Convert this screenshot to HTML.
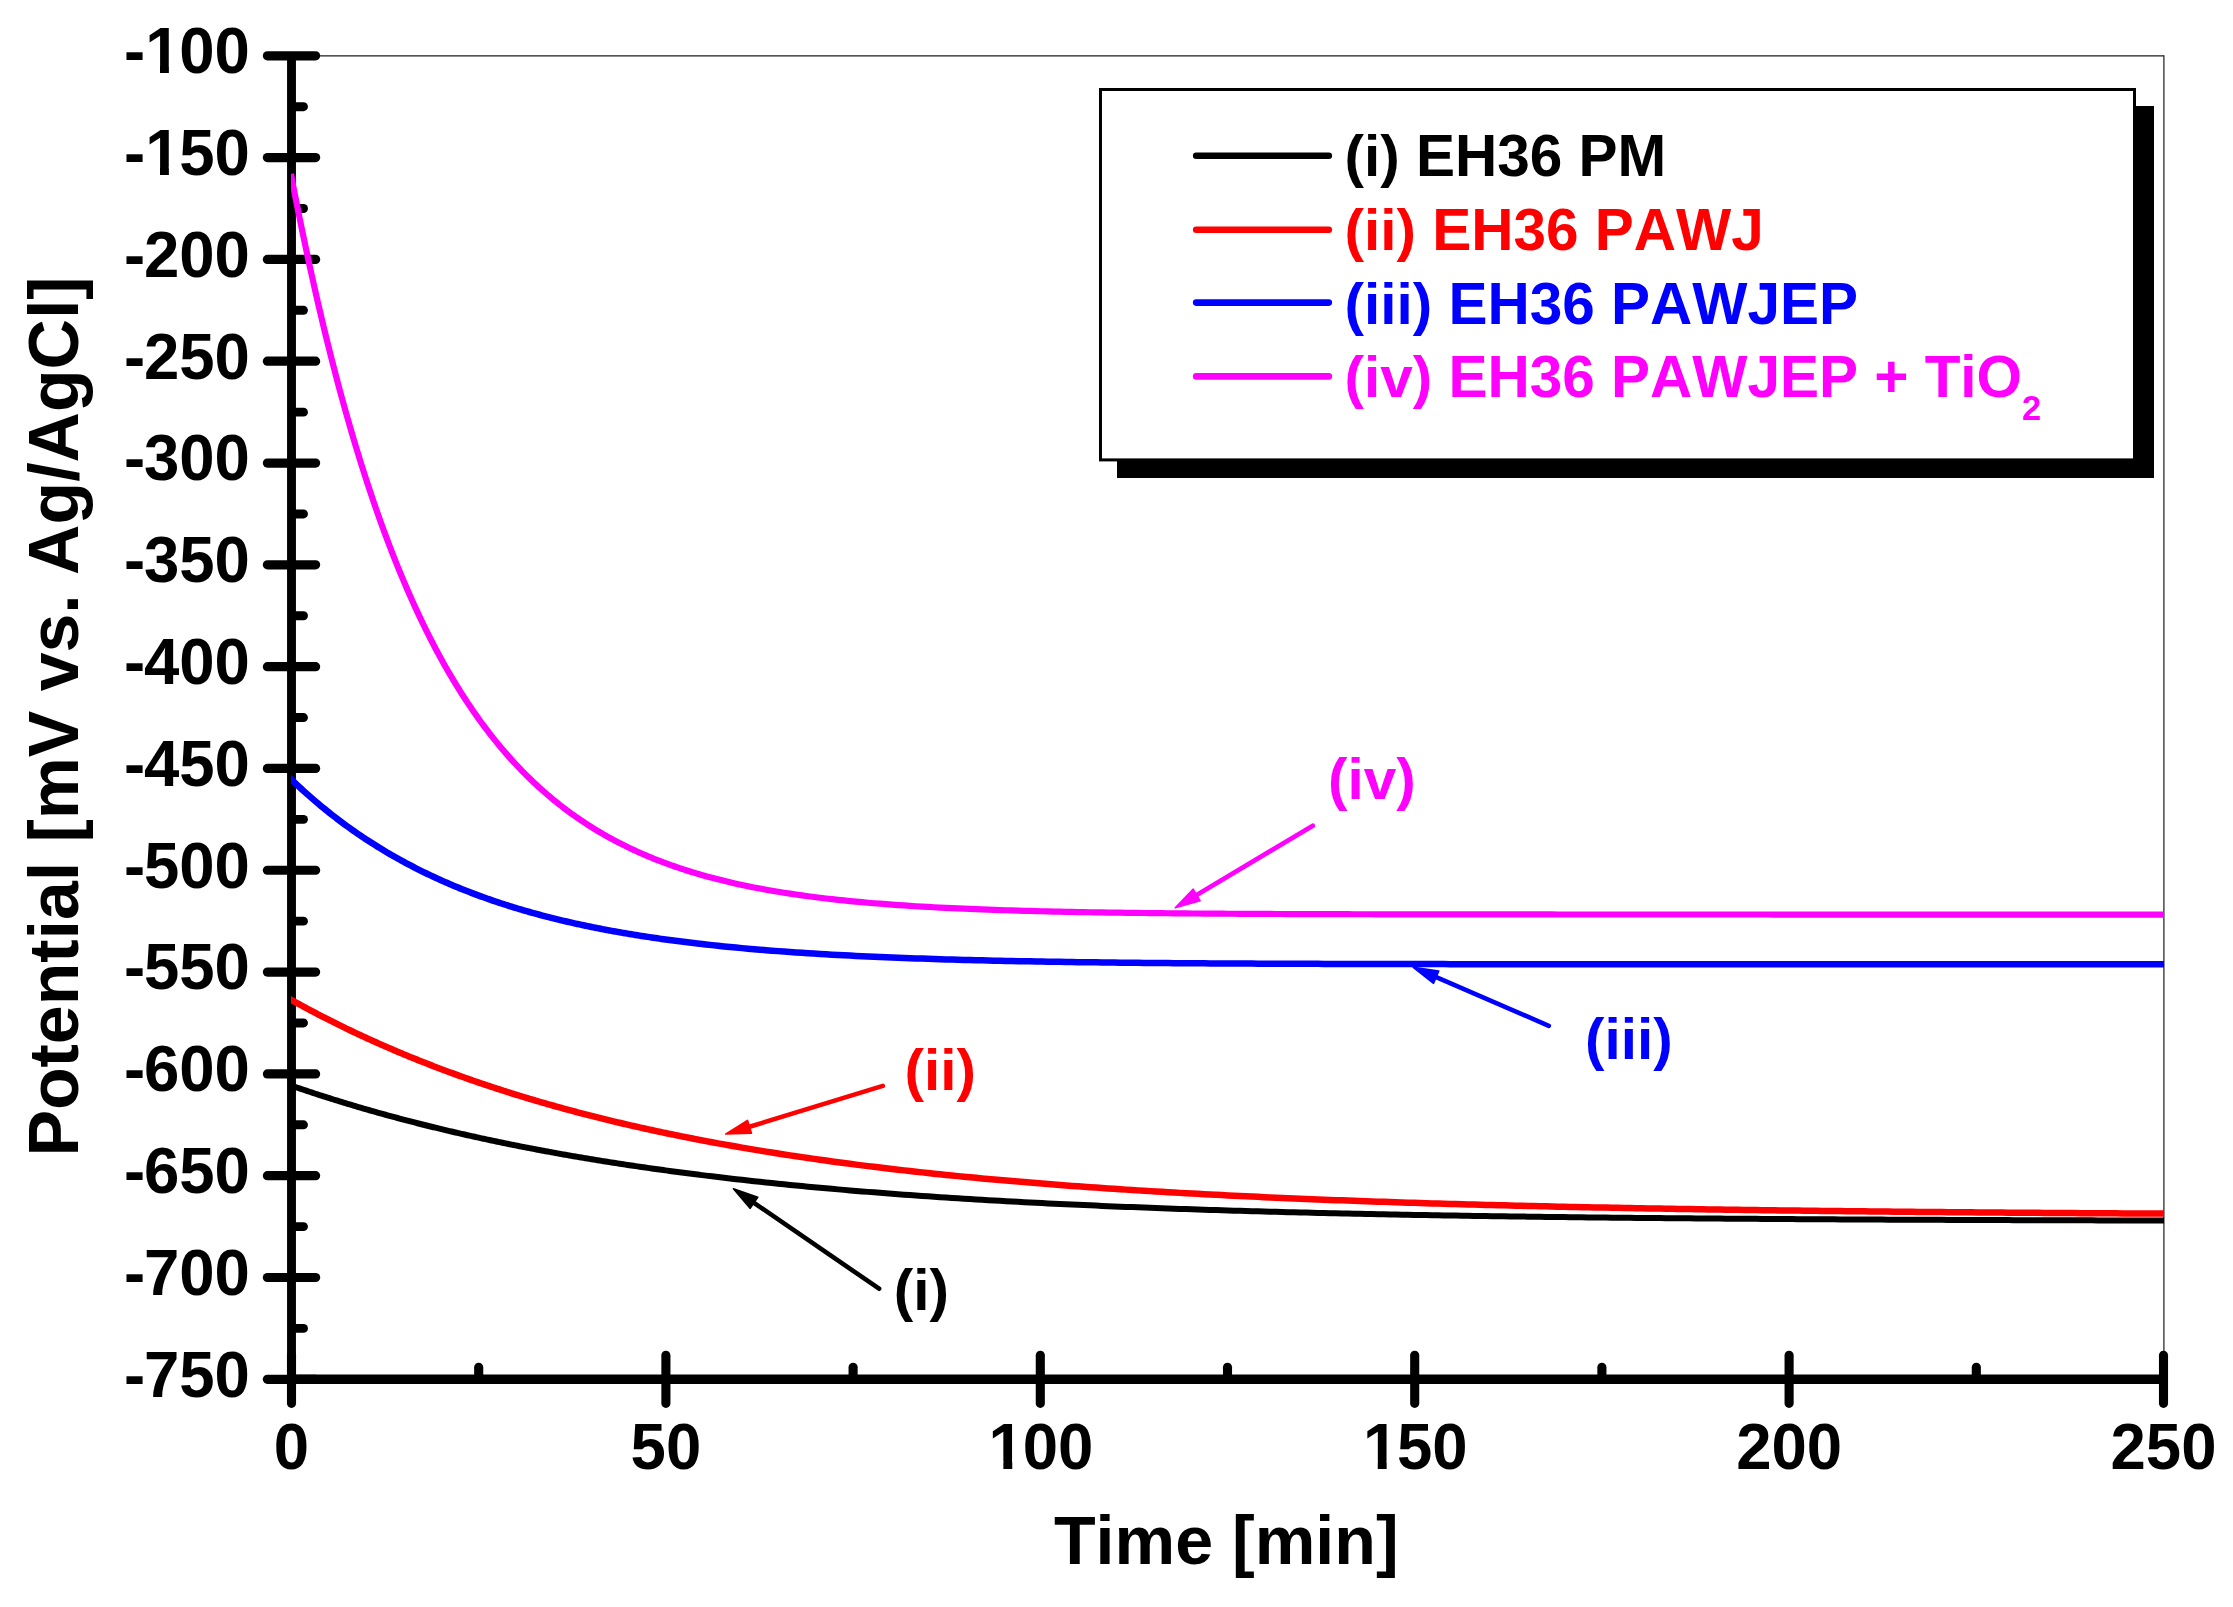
<!DOCTYPE html>
<html lang="en">
<head>
<meta charset="utf-8">
<title>Open circuit potential vs. time</title>
<style>
html,body{margin:0;padding:0;background:#fff;}
body{width:2233px;height:1607px;overflow:hidden;}
svg{display:block;}
text{font-family:"Liberation Sans",sans-serif;font-weight:bold;font-kerning:none;}
</style>
</head>
<body>
<svg width="2233" height="1607" viewBox="0 0 2233 1607">
<rect x="0" y="0" width="2233" height="1607" fill="#ffffff"/>
<g stroke="#1c1c1c" stroke-width="1.2" fill="none">
<line x1="291.5" y1="55.8" x2="2163.9" y2="55.8"/>
<line x1="2163.9" y1="55.2" x2="2163.9" y2="1379.3"/>
</g>
<g stroke="#000" stroke-width="9" fill="none" stroke-linecap="round">
<line x1="291.5" y1="55.8" x2="291.5" y2="1379.3" stroke-linecap="butt" stroke-width="8.9"/>
<line x1="291.5" y1="1379.3" x2="2163.5" y2="1379.3" stroke-linecap="butt" stroke-width="9.4"/>
</g>
<g stroke="#000" stroke-width="9.2" fill="none" stroke-linecap="round">
<line x1="267.40" y1="55.80" x2="315.60" y2="55.80"/>
<line x1="293.50" y1="106.70" x2="303.50" y2="106.70" stroke-width="8.9"/>
<line x1="267.40" y1="157.61" x2="315.60" y2="157.61"/>
<line x1="293.50" y1="208.51" x2="303.50" y2="208.51" stroke-width="8.9"/>
<line x1="267.40" y1="259.42" x2="315.60" y2="259.42"/>
<line x1="293.50" y1="310.32" x2="303.50" y2="310.32" stroke-width="8.9"/>
<line x1="267.40" y1="361.22" x2="315.60" y2="361.22"/>
<line x1="293.50" y1="412.13" x2="303.50" y2="412.13" stroke-width="8.9"/>
<line x1="267.40" y1="463.03" x2="315.60" y2="463.03"/>
<line x1="293.50" y1="513.93" x2="303.50" y2="513.93" stroke-width="8.9"/>
<line x1="267.40" y1="564.84" x2="315.60" y2="564.84"/>
<line x1="293.50" y1="615.74" x2="303.50" y2="615.74" stroke-width="8.9"/>
<line x1="267.40" y1="666.65" x2="315.60" y2="666.65"/>
<line x1="293.50" y1="717.55" x2="303.50" y2="717.55" stroke-width="8.9"/>
<line x1="267.40" y1="768.45" x2="315.60" y2="768.45"/>
<line x1="293.50" y1="819.36" x2="303.50" y2="819.36" stroke-width="8.9"/>
<line x1="267.40" y1="870.26" x2="315.60" y2="870.26"/>
<line x1="293.50" y1="921.17" x2="303.50" y2="921.17" stroke-width="8.9"/>
<line x1="267.40" y1="972.07" x2="315.60" y2="972.07"/>
<line x1="293.50" y1="1022.97" x2="303.50" y2="1022.97" stroke-width="8.9"/>
<line x1="267.40" y1="1073.88" x2="315.60" y2="1073.88"/>
<line x1="293.50" y1="1124.78" x2="303.50" y2="1124.78" stroke-width="8.9"/>
<line x1="267.40" y1="1175.68" x2="315.60" y2="1175.68"/>
<line x1="293.50" y1="1226.59" x2="303.50" y2="1226.59" stroke-width="8.9"/>
<line x1="267.40" y1="1277.49" x2="315.60" y2="1277.49"/>
<line x1="293.50" y1="1328.40" x2="303.50" y2="1328.40" stroke-width="8.9"/>
<line x1="267.40" y1="1379.30" x2="315.60" y2="1379.30"/>
<line x1="291.50" y1="1355.20" x2="291.50" y2="1403.40" stroke-width="9.1"/>
<line x1="478.70" y1="1377.30" x2="478.70" y2="1367.30" stroke-width="9.1"/>
<line x1="665.90" y1="1355.20" x2="665.90" y2="1403.40" stroke-width="9.1"/>
<line x1="853.10" y1="1377.30" x2="853.10" y2="1367.30" stroke-width="9.1"/>
<line x1="1040.30" y1="1355.20" x2="1040.30" y2="1403.40" stroke-width="9.1"/>
<line x1="1227.50" y1="1377.30" x2="1227.50" y2="1367.30" stroke-width="9.1"/>
<line x1="1414.70" y1="1355.20" x2="1414.70" y2="1403.40" stroke-width="9.1"/>
<line x1="1601.90" y1="1377.30" x2="1601.90" y2="1367.30" stroke-width="9.1"/>
<line x1="1789.10" y1="1355.20" x2="1789.10" y2="1403.40" stroke-width="9.1"/>
<line x1="1976.30" y1="1377.30" x2="1976.30" y2="1367.30" stroke-width="9.1"/>
<line x1="2163.50" y1="1355.20" x2="2163.50" y2="1403.40" stroke-width="9.1"/>
</g>
<clipPath id="oneA"><path clip-rule="evenodd" d="M-20 -80H260V30H-20Z M3.80 -7.75H16.03V4H3.80Z M24.93 -7.75H36.35V4H24.93Z"/></clipPath>
<clipPath id="oneB"><path clip-rule="evenodd" d="M-20 -80H260V30H-20Z M24.95 -7.75H37.17V4H24.95Z M46.07 -7.75H57.49V4H46.07Z"/></clipPath>
<text transform="translate(122.81 73.2) scale(1 1.03)" font-size="63.5" fill="#000" clip-path="url(#oneB)"><tspan dx="1.2">-</tspan><tspan dx="0.10">1</tspan><tspan dx="-1.30">00</tspan></text>
<text transform="translate(122.81 175.01) scale(1 1.03)" font-size="63.5" fill="#000" clip-path="url(#oneB)"><tspan dx="1.2">-</tspan><tspan dx="0.10">1</tspan><tspan dx="-1.30">50</tspan></text>
<text transform="translate(122.81 276.82) scale(1 1.03)" font-size="63.5" fill="#000"><tspan dx="1.2">-</tspan><tspan dx="-1.20">200</tspan></text>
<text transform="translate(122.81 378.62) scale(1 1.03)" font-size="63.5" fill="#000"><tspan dx="1.2">-</tspan><tspan dx="-1.20">250</tspan></text>
<text transform="translate(122.81 480.43) scale(1 1.03)" font-size="63.5" fill="#000"><tspan dx="1.2">-</tspan><tspan dx="-1.20">300</tspan></text>
<text transform="translate(122.81 582.24) scale(1 1.03)" font-size="63.5" fill="#000"><tspan dx="1.2">-</tspan><tspan dx="-1.20">350</tspan></text>
<text transform="translate(122.81 684.05) scale(1 1.03)" font-size="63.5" fill="#000"><tspan dx="1.2">-</tspan><tspan dx="-1.20">400</tspan></text>
<text transform="translate(122.81 785.85) scale(1 1.03)" font-size="63.5" fill="#000"><tspan dx="1.2">-</tspan><tspan dx="-1.20">450</tspan></text>
<text transform="translate(122.81 887.66) scale(1 1.03)" font-size="63.5" fill="#000"><tspan dx="1.2">-</tspan><tspan dx="-1.20">500</tspan></text>
<text transform="translate(122.81 989.47) scale(1 1.03)" font-size="63.5" fill="#000"><tspan dx="1.2">-</tspan><tspan dx="-1.20">550</tspan></text>
<text transform="translate(122.81 1091.28) scale(1 1.03)" font-size="63.5" fill="#000"><tspan dx="1.2">-</tspan><tspan dx="-1.20">600</tspan></text>
<text transform="translate(122.81 1193.08) scale(1 1.03)" font-size="63.5" fill="#000"><tspan dx="1.2">-</tspan><tspan dx="-1.20">650</tspan></text>
<text transform="translate(122.81 1294.89) scale(1 1.03)" font-size="63.5" fill="#000"><tspan dx="1.2">-</tspan><tspan dx="-1.20">700</tspan></text>
<text transform="translate(122.81 1396.7) scale(1 1.03)" font-size="63.5" fill="#000"><tspan dx="1.2">-</tspan><tspan dx="-1.20">750</tspan></text>
<text transform="translate(273.84 1469.2) scale(1 1.03)" font-size="63.5" fill="#000">0</text>
<text transform="translate(630.58 1469.2) scale(1 1.03)" font-size="63.5" fill="#000">50</text>
<text transform="translate(987.33 1469.2) scale(1 1.03)" font-size="63.5" fill="#000" clip-path="url(#oneA)"><tspan dx="1.30">1</tspan><tspan dx="-1.30">00</tspan></text>
<text transform="translate(1361.73 1469.2) scale(1 1.03)" font-size="63.5" fill="#000" clip-path="url(#oneA)"><tspan dx="1.30">1</tspan><tspan dx="-1.30">50</tspan></text>
<text transform="translate(1736.13 1469.2) scale(1 1.03)" font-size="63.5" fill="#000">200</text>
<text transform="translate(2110.53 1469.2) scale(1 1.03)" font-size="63.5" fill="#000">250</text>
<text transform="translate(1226.3 1564.4) scale(1 1.01)" font-size="68.2" fill="#000" text-anchor="middle">Time [min]</text>
<text transform="translate(78.2 716.5) rotate(-90) scale(1 1.015)" font-size="69.8" fill="#000" text-anchor="middle">Potential [mV vs. Ag/AgCl]</text>
<clipPath id="plotclip"><rect x="291.1" y="0" width="1872.8" height="1607"/></clipPath>
<g clip-path="url(#plotclip)" fill="none" stroke-linejoin="round" stroke-linecap="square">
<path d="M291.5 1085.70 L293.5 1086.39 L295.5 1087.07 L297.5 1087.75 L299.5 1088.43 L301.5 1089.11 L303.5 1089.78 L305.5 1090.45 L307.5 1091.11 L309.5 1091.78 L311.5 1092.44 L313.5 1093.09 L315.5 1093.75 L317.5 1094.40 L319.5 1095.04 L321.5 1095.69 L323.5 1096.33 L325.5 1096.96 L327.5 1097.60 L329.5 1098.23 L331.5 1098.86 L333.5 1099.49 L335.5 1100.11 L337.5 1100.73 L339.5 1101.35 L341.5 1101.96 L343.5 1102.57 L345.5 1103.18 L347.5 1103.78 L349.5 1104.39 L351.5 1104.98 L353.5 1105.58 L355.5 1106.17 L357.5 1106.77 L359.5 1107.35 L361.5 1107.94 L363.5 1108.52 L365.5 1109.10 L367.5 1109.68 L369.5 1110.25 L371.5 1110.82 L373.5 1111.39 L375.5 1111.96 L377.5 1112.52 L379.5 1113.08 L381.5 1113.64 L383.5 1114.19 L385.5 1114.74 L387.5 1115.29 L389.5 1115.84 L391.5 1116.38 L393.5 1116.93 L395.5 1117.46 L397.5 1118.00 L399.5 1118.53 L401.5 1119.07 L403.5 1119.59 L405.5 1120.12 L407.5 1120.64 L409.5 1121.16 L411.5 1121.68 L413.5 1122.20 L415.5 1122.71 L417.5 1123.22 L419.5 1123.73 L421.5 1124.24 L423.5 1124.74 L425.5 1125.24 L427.5 1125.74 L429.5 1126.23 L431.5 1126.73 L433.5 1127.22 L435.5 1127.71 L437.5 1128.19 L439.5 1128.68 L441.5 1129.16 L443.5 1129.64 L445.5 1130.12 L447.5 1130.59 L449.5 1131.06 L451.5 1131.53 L453.5 1132.00 L455.5 1132.47 L457.5 1132.93 L459.5 1133.39 L461.5 1133.85 L463.5 1134.30 L465.5 1134.76 L467.5 1135.21 L469.5 1135.66 L471.5 1136.11 L473.5 1136.55 L475.5 1136.99 L477.5 1137.43 L479.5 1137.87 L481.5 1138.31 L483.5 1138.74 L485.5 1139.18 L487.5 1139.61 L489.5 1140.03 L491.5 1140.46 L493.5 1140.88 L495.5 1141.30 L497.5 1141.72 L499.5 1142.14 L501.5 1142.56 L503.5 1142.97 L505.5 1143.38 L507.5 1143.79 L509.5 1144.19 L511.5 1144.60 L513.5 1145.00 L515.5 1145.40 L517.5 1145.80 L519.5 1146.20 L521.5 1146.59 L523.5 1146.99 L525.5 1147.38 L527.5 1147.77 L529.5 1148.15 L531.5 1148.54 L533.5 1148.92 L535.5 1149.30 L537.5 1149.68 L539.5 1150.06 L541.5 1150.44 L543.5 1150.81 L545.5 1151.18 L547.5 1151.55 L549.5 1151.92 L551.5 1152.29 L553.5 1152.65 L555.5 1153.01 L557.5 1153.37 L559.5 1153.73 L561.5 1154.09 L563.5 1154.44 L565.5 1154.80 L567.5 1155.15 L569.5 1155.50 L571.5 1155.85 L573.5 1156.19 L575.5 1156.54 L577.5 1156.88 L579.5 1157.22 L581.5 1157.56 L583.5 1157.90 L585.5 1158.24 L587.5 1158.57 L589.5 1158.90 L591.5 1159.23 L593.5 1159.56 L595.5 1159.89 L597.5 1160.22 L599.5 1160.54 L601.5 1160.86 L603.5 1161.19 L605.5 1161.51 L607.5 1161.82 L609.5 1162.14 L611.5 1162.45 L613.5 1162.77 L615.5 1163.08 L617.5 1163.39 L619.5 1163.70 L621.5 1164.00 L623.5 1164.31 L625.5 1164.61 L627.5 1164.91 L629.5 1165.21 L631.5 1165.51 L633.5 1165.81 L635.5 1166.11 L637.5 1166.40 L639.5 1166.69 L641.5 1166.98 L643.5 1167.27 L645.5 1167.56 L647.5 1167.85 L649.5 1168.14 L651.5 1168.42 L653.5 1168.70 L655.5 1168.98 L657.5 1169.26 L659.5 1169.54 L661.5 1169.82 L663.5 1170.09 L665.5 1170.37 L667.5 1170.64 L669.5 1170.91 L671.5 1171.18 L673.5 1171.45 L675.5 1171.72 L677.5 1171.98 L679.5 1172.25 L681.5 1172.51 L683.5 1172.77 L685.5 1173.03 L687.5 1173.29 L689.5 1173.55 L691.5 1173.80 L693.5 1174.06 L695.5 1174.31 L697.5 1174.56 L699.5 1174.81 L700.0 1174.88 L706.0 1175.62 L712.0 1176.35 L718.0 1177.07 L724.0 1177.79 L730.0 1178.48 L736.0 1179.17 L742.0 1179.85 L748.0 1180.52 L754.0 1181.17 L760.0 1181.82 L766.0 1182.46 L772.0 1183.08 L778.0 1183.70 L784.0 1184.31 L790.0 1184.91 L796.0 1185.50 L802.0 1186.07 L808.0 1186.64 L814.0 1187.21 L820.0 1187.76 L826.0 1188.30 L832.0 1188.84 L838.0 1189.37 L844.0 1189.88 L850.0 1190.39 L856.0 1190.90 L862.0 1191.39 L868.0 1191.88 L874.0 1192.36 L880.0 1192.83 L886.0 1193.29 L892.0 1193.75 L898.0 1194.20 L904.0 1194.64 L910.0 1195.08 L916.0 1195.51 L922.0 1195.93 L928.0 1196.34 L934.0 1196.75 L940.0 1197.15 L946.0 1197.55 L952.0 1197.94 L958.0 1198.32 L964.0 1198.70 L970.0 1199.07 L976.0 1199.43 L982.0 1199.79 L988.0 1200.15 L994.0 1200.49 L1000.0 1200.84 L1006.0 1201.17 L1012.0 1201.50 L1018.0 1201.83 L1024.0 1202.15 L1030.0 1202.47 L1036.0 1202.78 L1042.0 1203.08 L1048.0 1203.38 L1054.0 1203.68 L1060.0 1203.97 L1066.0 1204.26 L1072.0 1204.54 L1078.0 1204.81 L1084.0 1205.09 L1090.0 1205.35 L1096.0 1205.62 L1102.0 1205.88 L1108.0 1206.13 L1114.0 1206.39 L1120.0 1206.63 L1126.0 1206.88 L1132.0 1207.11 L1138.0 1207.35 L1144.0 1207.58 L1150.0 1207.81 L1156.0 1208.03 L1162.0 1208.25 L1168.0 1208.47 L1174.0 1208.68 L1180.0 1208.89 L1186.0 1209.10 L1192.0 1209.30 L1198.0 1209.50 L1204.0 1209.70 L1210.0 1209.89 L1216.0 1210.08 L1222.0 1210.27 L1228.0 1210.45 L1234.0 1210.64 L1240.0 1210.81 L1246.0 1210.99 L1252.0 1211.16 L1258.0 1211.33 L1264.0 1211.50 L1270.0 1211.66 L1276.0 1211.82 L1282.0 1211.98 L1288.0 1212.14 L1294.0 1212.29 L1300.0 1212.44 L1306.0 1212.59 L1312.0 1212.73 L1318.0 1212.88 L1324.0 1213.02 L1330.0 1213.16 L1336.0 1213.29 L1342.0 1213.43 L1348.0 1213.56 L1354.0 1213.69 L1360.0 1213.82 L1366.0 1213.94 L1372.0 1214.07 L1378.0 1214.19 L1384.0 1214.31 L1390.0 1214.43 L1396.0 1214.54 L1402.0 1214.66 L1408.0 1214.77 L1414.0 1214.88 L1420.0 1214.99 L1426.0 1215.09 L1432.0 1215.20 L1438.0 1215.30 L1444.0 1215.40 L1450.0 1215.50 L1456.0 1215.60 L1462.0 1215.69 L1468.0 1215.79 L1474.0 1215.88 L1480.0 1215.97 L1486.0 1216.06 L1492.0 1216.15 L1498.0 1216.24 L1504.0 1216.32 L1510.0 1216.41 L1516.0 1216.49 L1522.0 1216.57 L1528.0 1216.65 L1534.0 1216.73 L1540.0 1216.81 L1546.0 1216.88 L1552.0 1216.96 L1558.0 1217.03 L1564.0 1217.10 L1570.0 1217.17 L1576.0 1217.24 L1582.0 1217.31 L1588.0 1217.38 L1594.0 1217.45 L1600.0 1217.51 L1606.0 1217.57 L1612.0 1217.64 L1618.0 1217.70 L1624.0 1217.76 L1630.0 1217.82 L1636.0 1217.88 L1642.0 1217.94 L1648.0 1217.99 L1654.0 1218.05 L1660.0 1218.10 L1666.0 1218.16 L1672.0 1218.21 L1678.0 1218.26 L1684.0 1218.32 L1690.0 1218.37 L1696.0 1218.42 L1702.0 1218.46 L1708.0 1218.51 L1714.0 1218.56 L1720.0 1218.61 L1726.0 1218.65 L1732.0 1218.70 L1738.0 1218.74 L1744.0 1218.78 L1750.0 1218.83 L1756.0 1218.87 L1762.0 1218.91 L1768.0 1218.95 L1774.0 1218.99 L1780.0 1219.03 L1786.0 1219.07 L1792.0 1219.11 L1798.0 1219.14 L1804.0 1219.18 L1810.0 1219.22 L1816.0 1219.25 L1822.0 1219.29 L1828.0 1219.32 L1834.0 1219.35 L1840.0 1219.39 L1846.0 1219.42 L1852.0 1219.45 L1858.0 1219.48 L1864.0 1219.51 L1870.0 1219.54 L1876.0 1219.57 L1882.0 1219.60 L1888.0 1219.63 L1894.0 1219.66 L1900.0 1219.69 L1906.0 1219.71 L1912.0 1219.74 L1918.0 1219.77 L1924.0 1219.79 L1930.0 1219.82 L1936.0 1219.84 L1942.0 1219.87 L1948.0 1219.89 L1954.0 1219.92 L1960.0 1219.94 L1966.0 1219.96 L1972.0 1219.98 L1978.0 1220.01 L1984.0 1220.03 L1990.0 1220.05 L1996.0 1220.07 L2002.0 1220.09 L2008.0 1220.11 L2014.0 1220.13 L2020.0 1220.15 L2026.0 1220.17 L2032.0 1220.19 L2038.0 1220.21 L2044.0 1220.23 L2050.0 1220.25 L2056.0 1220.26 L2062.0 1220.28 L2068.0 1220.30 L2074.0 1220.31 L2080.0 1220.33 L2086.0 1220.35 L2092.0 1220.36 L2098.0 1220.38 L2104.0 1220.39 L2110.0 1220.41 L2116.0 1220.42 L2122.0 1220.44 L2128.0 1220.45 L2134.0 1220.47 L2140.0 1220.48 L2146.0 1220.50 L2152.0 1220.51 L2158.0 1220.52 L2163.5 1220.53" stroke="#000000" stroke-width="6.0"/>
<path d="M291.5 1000.00 L293.5 1001.11 L295.5 1002.22 L297.5 1003.32 L299.5 1004.42 L301.5 1005.51 L303.5 1006.60 L305.5 1007.68 L307.5 1008.75 L309.5 1009.82 L311.5 1010.88 L313.5 1011.94 L315.5 1012.99 L317.5 1014.03 L319.5 1015.07 L321.5 1016.11 L323.5 1017.14 L325.5 1018.16 L327.5 1019.18 L329.5 1020.19 L331.5 1021.20 L333.5 1022.20 L335.5 1023.20 L337.5 1024.19 L339.5 1025.18 L341.5 1026.16 L343.5 1027.14 L345.5 1028.11 L347.5 1029.08 L349.5 1030.04 L351.5 1030.99 L353.5 1031.94 L355.5 1032.89 L357.5 1033.83 L359.5 1034.77 L361.5 1035.70 L363.5 1036.63 L365.5 1037.55 L367.5 1038.46 L369.5 1039.38 L371.5 1040.28 L373.5 1041.19 L375.5 1042.08 L377.5 1042.98 L379.5 1043.86 L381.5 1044.75 L383.5 1045.63 L385.5 1046.50 L387.5 1047.37 L389.5 1048.24 L391.5 1049.10 L393.5 1049.95 L395.5 1050.81 L397.5 1051.65 L399.5 1052.50 L401.5 1053.33 L403.5 1054.17 L405.5 1055.00 L407.5 1055.82 L409.5 1056.64 L411.5 1057.46 L413.5 1058.27 L415.5 1059.08 L417.5 1059.88 L419.5 1060.68 L421.5 1061.48 L423.5 1062.27 L425.5 1063.06 L427.5 1063.84 L429.5 1064.62 L431.5 1065.39 L433.5 1066.17 L435.5 1066.93 L437.5 1067.70 L439.5 1068.45 L441.5 1069.21 L443.5 1069.96 L445.5 1070.71 L447.5 1071.45 L449.5 1072.19 L451.5 1072.92 L453.5 1073.66 L455.5 1074.38 L457.5 1075.11 L459.5 1075.83 L461.5 1076.54 L463.5 1077.26 L465.5 1077.96 L467.5 1078.67 L469.5 1079.37 L471.5 1080.07 L473.5 1080.76 L475.5 1081.45 L477.5 1082.14 L479.5 1082.82 L481.5 1083.50 L483.5 1084.18 L485.5 1084.85 L487.5 1085.52 L489.5 1086.19 L491.5 1086.85 L493.5 1087.51 L495.5 1088.16 L497.5 1088.82 L499.5 1089.46 L501.5 1090.11 L503.5 1090.75 L505.5 1091.39 L507.5 1092.02 L509.5 1092.66 L511.5 1093.28 L513.5 1093.91 L515.5 1094.53 L517.5 1095.15 L519.5 1095.77 L521.5 1096.38 L523.5 1096.99 L525.5 1097.59 L527.5 1098.20 L529.5 1098.79 L531.5 1099.39 L533.5 1099.98 L535.5 1100.57 L537.5 1101.16 L539.5 1101.75 L541.5 1102.33 L543.5 1102.91 L545.5 1103.48 L547.5 1104.05 L549.5 1104.62 L551.5 1105.19 L553.5 1105.75 L555.5 1106.31 L557.5 1106.87 L559.5 1107.42 L561.5 1107.97 L563.5 1108.52 L565.5 1109.07 L567.5 1109.61 L569.5 1110.15 L571.5 1110.69 L573.5 1111.22 L575.5 1111.75 L577.5 1112.28 L579.5 1112.81 L581.5 1113.33 L583.5 1113.85 L585.5 1114.37 L587.5 1114.89 L589.5 1115.40 L591.5 1115.91 L593.5 1116.42 L595.5 1116.92 L597.5 1117.42 L599.5 1117.92 L601.5 1118.42 L603.5 1118.92 L605.5 1119.41 L607.5 1119.90 L609.5 1120.38 L611.5 1120.87 L613.5 1121.35 L615.5 1121.83 L617.5 1122.31 L619.5 1122.78 L621.5 1123.25 L623.5 1123.72 L625.5 1124.19 L627.5 1124.65 L629.5 1125.11 L631.5 1125.57 L633.5 1126.03 L635.5 1126.49 L637.5 1126.94 L639.5 1127.39 L641.5 1127.84 L643.5 1128.28 L645.5 1128.72 L647.5 1129.17 L649.5 1129.60 L651.5 1130.04 L653.5 1130.47 L655.5 1130.91 L657.5 1131.34 L659.5 1131.76 L661.5 1132.19 L663.5 1132.61 L665.5 1133.03 L667.5 1133.45 L669.5 1133.87 L671.5 1134.28 L673.5 1134.69 L675.5 1135.10 L677.5 1135.51 L679.5 1135.92 L681.5 1136.32 L683.5 1136.72 L685.5 1137.12 L687.5 1137.52 L689.5 1137.92 L691.5 1138.31 L693.5 1138.70 L695.5 1139.09 L697.5 1139.48 L699.5 1139.86 L700.0 1139.96 L706.0 1141.10 L712.0 1142.23 L718.0 1143.33 L724.0 1144.42 L730.0 1145.50 L736.0 1146.55 L742.0 1147.59 L748.0 1148.62 L754.0 1149.63 L760.0 1150.62 L766.0 1151.60 L772.0 1152.56 L778.0 1153.51 L784.0 1154.45 L790.0 1155.37 L796.0 1156.27 L802.0 1157.16 L808.0 1158.04 L814.0 1158.90 L820.0 1159.76 L826.0 1160.59 L832.0 1161.42 L838.0 1162.23 L844.0 1163.03 L850.0 1163.82 L856.0 1164.60 L862.0 1165.36 L868.0 1166.11 L874.0 1166.85 L880.0 1167.58 L886.0 1168.30 L892.0 1169.01 L898.0 1169.70 L904.0 1170.39 L910.0 1171.07 L916.0 1171.73 L922.0 1172.39 L928.0 1173.03 L934.0 1173.67 L940.0 1174.29 L946.0 1174.91 L952.0 1175.51 L958.0 1176.11 L964.0 1176.70 L970.0 1177.28 L976.0 1177.85 L982.0 1178.41 L988.0 1178.96 L994.0 1179.51 L1000.0 1180.05 L1006.0 1180.58 L1012.0 1181.10 L1018.0 1181.61 L1024.0 1182.11 L1030.0 1182.61 L1036.0 1183.10 L1042.0 1183.58 L1048.0 1184.06 L1054.0 1184.53 L1060.0 1184.99 L1066.0 1185.44 L1072.0 1185.89 L1078.0 1186.33 L1084.0 1186.76 L1090.0 1187.19 L1096.0 1187.61 L1102.0 1188.02 L1108.0 1188.43 L1114.0 1188.83 L1120.0 1189.23 L1126.0 1189.62 L1132.0 1190.00 L1138.0 1190.38 L1144.0 1190.75 L1150.0 1191.12 L1156.0 1191.48 L1162.0 1191.84 L1168.0 1192.19 L1174.0 1192.53 L1180.0 1192.87 L1186.0 1193.21 L1192.0 1193.54 L1198.0 1193.86 L1204.0 1194.18 L1210.0 1194.50 L1216.0 1194.81 L1222.0 1195.11 L1228.0 1195.41 L1234.0 1195.71 L1240.0 1196.00 L1246.0 1196.29 L1252.0 1196.58 L1258.0 1196.86 L1264.0 1197.13 L1270.0 1197.40 L1276.0 1197.67 L1282.0 1197.93 L1288.0 1198.19 L1294.0 1198.45 L1300.0 1198.70 L1306.0 1198.95 L1312.0 1199.19 L1318.0 1199.43 L1324.0 1199.67 L1330.0 1199.90 L1336.0 1200.13 L1342.0 1200.36 L1348.0 1200.58 L1354.0 1200.80 L1360.0 1201.02 L1366.0 1201.23 L1372.0 1201.44 L1378.0 1201.65 L1384.0 1201.85 L1390.0 1202.05 L1396.0 1202.25 L1402.0 1202.45 L1408.0 1202.64 L1414.0 1202.83 L1420.0 1203.02 L1426.0 1203.20 L1432.0 1203.38 L1438.0 1203.56 L1444.0 1203.74 L1450.0 1203.91 L1456.0 1204.08 L1462.0 1204.25 L1468.0 1204.41 L1474.0 1204.58 L1480.0 1204.74 L1486.0 1204.90 L1492.0 1205.05 L1498.0 1205.21 L1504.0 1205.36 L1510.0 1205.51 L1516.0 1205.65 L1522.0 1205.80 L1528.0 1205.94 L1534.0 1206.08 L1540.0 1206.22 L1546.0 1206.36 L1552.0 1206.49 L1558.0 1206.63 L1564.0 1206.76 L1570.0 1206.89 L1576.0 1207.01 L1582.0 1207.14 L1588.0 1207.26 L1594.0 1207.38 L1600.0 1207.50 L1606.0 1207.62 L1612.0 1207.74 L1618.0 1207.85 L1624.0 1207.96 L1630.0 1208.08 L1636.0 1208.19 L1642.0 1208.29 L1648.0 1208.40 L1654.0 1208.51 L1660.0 1208.61 L1666.0 1208.71 L1672.0 1208.81 L1678.0 1208.91 L1684.0 1209.01 L1690.0 1209.10 L1696.0 1209.20 L1702.0 1209.29 L1708.0 1209.38 L1714.0 1209.47 L1720.0 1209.56 L1726.0 1209.65 L1732.0 1209.74 L1738.0 1209.82 L1744.0 1209.91 L1750.0 1209.99 L1756.0 1210.07 L1762.0 1210.16 L1768.0 1210.23 L1774.0 1210.31 L1780.0 1210.39 L1786.0 1210.47 L1792.0 1210.54 L1798.0 1210.62 L1804.0 1210.69 L1810.0 1210.76 L1816.0 1210.83 L1822.0 1210.90 L1828.0 1210.97 L1834.0 1211.04 L1840.0 1211.11 L1846.0 1211.17 L1852.0 1211.24 L1858.0 1211.30 L1864.0 1211.36 L1870.0 1211.43 L1876.0 1211.49 L1882.0 1211.55 L1888.0 1211.61 L1894.0 1211.67 L1900.0 1211.72 L1906.0 1211.78 L1912.0 1211.84 L1918.0 1211.89 L1924.0 1211.95 L1930.0 1212.00 L1936.0 1212.06 L1942.0 1212.11 L1948.0 1212.16 L1954.0 1212.21 L1960.0 1212.26 L1966.0 1212.31 L1972.0 1212.36 L1978.0 1212.41 L1984.0 1212.45 L1990.0 1212.50 L1996.0 1212.55 L2002.0 1212.59 L2008.0 1212.64 L2014.0 1212.68 L2020.0 1212.73 L2026.0 1212.77 L2032.0 1212.81 L2038.0 1212.85 L2044.0 1212.89 L2050.0 1212.93 L2056.0 1212.97 L2062.0 1213.01 L2068.0 1213.05 L2074.0 1213.09 L2080.0 1213.13 L2086.0 1213.17 L2092.0 1213.20 L2098.0 1213.24 L2104.0 1213.28 L2110.0 1213.31 L2116.0 1213.35 L2122.0 1213.38 L2128.0 1213.41 L2134.0 1213.45 L2140.0 1213.48 L2146.0 1213.51 L2152.0 1213.54 L2158.0 1213.58 L2163.5 1213.60" stroke="#ff0000" stroke-width="6.5"/>
<path d="M291.5 779.60 L293.5 781.52 L295.5 783.41 L297.5 785.29 L299.5 787.15 L301.5 788.99 L303.5 790.81 L305.5 792.61 L307.5 794.39 L309.5 796.16 L311.5 797.90 L313.5 799.63 L315.5 801.35 L317.5 803.04 L319.5 804.72 L321.5 806.38 L323.5 808.03 L325.5 809.65 L327.5 811.26 L329.5 812.86 L331.5 814.44 L333.5 816.00 L335.5 817.55 L337.5 819.08 L339.5 820.59 L341.5 822.09 L343.5 823.58 L345.5 825.04 L347.5 826.50 L349.5 827.94 L351.5 829.36 L353.5 830.77 L355.5 832.17 L357.5 833.55 L359.5 834.92 L361.5 836.27 L363.5 837.61 L365.5 838.94 L367.5 840.25 L369.5 841.55 L371.5 842.84 L373.5 844.11 L375.5 845.37 L377.5 846.62 L379.5 847.85 L381.5 849.08 L383.5 850.29 L385.5 851.48 L387.5 852.67 L389.5 853.84 L391.5 855.00 L393.5 856.15 L395.5 857.29 L397.5 858.41 L399.5 859.53 L401.5 860.63 L403.5 861.72 L405.5 862.80 L407.5 863.87 L409.5 864.93 L411.5 865.98 L413.5 867.01 L415.5 868.04 L417.5 869.05 L419.5 870.06 L421.5 871.05 L423.5 872.04 L425.5 873.01 L427.5 873.98 L429.5 874.93 L431.5 875.88 L433.5 876.81 L435.5 877.74 L437.5 878.65 L439.5 879.56 L441.5 880.46 L443.5 881.35 L445.5 882.23 L447.5 883.10 L449.5 883.96 L451.5 884.81 L453.5 885.65 L455.5 886.49 L457.5 887.31 L459.5 888.13 L461.5 888.94 L463.5 889.74 L465.5 890.53 L467.5 891.32 L469.5 892.09 L471.5 892.86 L473.5 893.62 L475.5 894.37 L477.5 895.12 L479.5 895.86 L481.5 896.59 L483.5 897.31 L485.5 898.02 L487.5 898.73 L489.5 899.43 L491.5 900.12 L493.5 900.81 L495.5 901.49 L497.5 902.16 L499.5 902.82 L501.5 903.48 L503.5 904.13 L505.5 904.77 L507.5 905.41 L509.5 906.04 L511.5 906.66 L513.5 907.28 L515.5 907.89 L517.5 908.50 L519.5 909.10 L521.5 909.69 L523.5 910.28 L525.5 910.86 L527.5 911.43 L529.5 912.00 L531.5 912.56 L533.5 913.12 L535.5 913.67 L537.5 914.21 L539.5 914.75 L541.5 915.29 L543.5 915.81 L545.5 916.34 L547.5 916.85 L549.5 917.37 L551.5 917.87 L553.5 918.37 L555.5 918.87 L557.5 919.36 L559.5 919.85 L561.5 920.33 L563.5 920.80 L565.5 921.27 L567.5 921.74 L569.5 922.20 L571.5 922.65 L573.5 923.11 L575.5 923.55 L577.5 923.99 L579.5 924.43 L581.5 924.86 L583.5 925.29 L585.5 925.72 L587.5 926.14 L589.5 926.55 L591.5 926.96 L593.5 927.37 L595.5 927.77 L597.5 928.17 L599.5 928.56 L601.5 928.95 L603.5 929.33 L605.5 929.72 L607.5 930.09 L609.5 930.47 L611.5 930.84 L613.5 931.20 L615.5 931.56 L617.5 931.92 L619.5 932.28 L621.5 932.63 L623.5 932.97 L625.5 933.32 L627.5 933.65 L629.5 933.99 L631.5 934.32 L633.5 934.65 L635.5 934.98 L637.5 935.30 L639.5 935.62 L641.5 935.93 L643.5 936.24 L645.5 936.55 L647.5 936.86 L649.5 937.16 L651.5 937.46 L653.5 937.75 L655.5 938.05 L657.5 938.34 L659.5 938.62 L661.5 938.91 L663.5 939.19 L665.5 939.46 L667.5 939.74 L669.5 940.01 L671.5 940.28 L673.5 940.54 L675.5 940.81 L677.5 941.07 L679.5 941.33 L681.5 941.58 L683.5 941.83 L685.5 942.08 L687.5 942.33 L689.5 942.57 L691.5 942.81 L693.5 943.05 L695.5 943.29 L697.5 943.52 L699.5 943.75 L700.0 943.81 L706.0 944.49 L712.0 945.14 L718.0 945.78 L724.0 946.40 L730.0 946.99 L736.0 947.57 L742.0 948.13 L748.0 948.67 L754.0 949.19 L760.0 949.70 L766.0 950.19 L772.0 950.66 L778.0 951.12 L784.0 951.56 L790.0 951.99 L796.0 952.41 L802.0 952.81 L808.0 953.20 L814.0 953.58 L820.0 953.95 L826.0 954.30 L832.0 954.64 L838.0 954.97 L844.0 955.29 L850.0 955.60 L856.0 955.90 L862.0 956.19 L868.0 956.47 L874.0 956.74 L880.0 957.01 L886.0 957.26 L892.0 957.50 L898.0 957.74 L904.0 957.97 L910.0 958.19 L916.0 958.41 L922.0 958.62 L928.0 958.82 L934.0 959.01 L940.0 959.20 L946.0 959.38 L952.0 959.55 L958.0 959.72 L964.0 959.89 L970.0 960.04 L976.0 960.20 L982.0 960.34 L988.0 960.49 L994.0 960.63 L1000.0 960.76 L1006.0 960.89 L1012.0 961.01 L1018.0 961.13 L1024.0 961.25 L1030.0 961.36 L1036.0 961.47 L1042.0 961.57 L1048.0 961.67 L1054.0 961.77 L1060.0 961.86 L1066.0 961.95 L1072.0 962.04 L1078.0 962.13 L1084.0 962.21 L1090.0 962.29 L1096.0 962.36 L1102.0 962.44 L1108.0 962.51 L1114.0 962.58 L1120.0 962.64 L1126.0 962.70 L1132.0 962.77 L1138.0 962.83 L1144.0 962.88 L1150.0 962.94 L1156.0 962.99 L1162.0 963.04 L1168.0 963.09 L1174.0 963.14 L1180.0 963.18 L1186.0 963.23 L1192.0 963.27 L1198.0 963.31 L1204.0 963.35 L1210.0 963.39 L1216.0 963.42 L1222.0 963.46 L1228.0 963.49 L1234.0 963.53 L1240.0 963.56 L1246.0 963.59 L1252.0 963.62 L1258.0 963.64 L1264.0 963.67 L1270.0 963.70 L1276.0 963.72 L1282.0 963.74 L1288.0 963.77 L1294.0 963.79 L1300.0 963.81 L1306.0 963.83 L1312.0 963.85 L1318.0 963.87 L1324.0 963.89 L1330.0 963.90 L1336.0 963.92 L1342.0 963.94 L1348.0 963.95 L1354.0 963.97 L1360.0 963.98 L1366.0 963.99 L1372.0 964.01 L1378.0 964.02 L1384.0 964.03 L1390.0 964.04 L1396.0 964.05 L1402.0 964.06 L1408.0 964.07 L1414.0 964.08 L1420.0 964.09 L1426.0 964.10 L1432.0 964.11 L1438.0 964.12 L1444.0 964.12 L1450.0 964.13 L1456.0 964.14 L1462.0 964.15 L1468.0 964.15 L1474.0 964.16 L1480.0 964.16 L1486.0 964.17 L1492.0 964.17 L1498.0 964.18 L1504.0 964.18 L1510.0 964.19 L1516.0 964.19 L1522.0 964.20 L1528.0 964.20 L1534.0 964.20 L1540.0 964.21 L1546.0 964.21 L1552.0 964.21 L1558.0 964.21 L1564.0 964.22 L1570.0 964.22 L1576.0 964.22 L1582.0 964.22 L1588.0 964.23 L1594.0 964.23 L1600.0 964.23 L1606.0 964.23 L1612.0 964.23 L1618.0 964.23 L1624.0 964.24 L1630.0 964.24 L1636.0 964.24 L1642.0 964.24 L1648.0 964.24 L1654.0 964.24 L1660.0 964.24 L1666.0 964.24 L1672.0 964.24 L1678.0 964.24 L1684.0 964.24 L1690.0 964.24 L1696.0 964.25 L1702.0 964.25 L1708.0 964.25 L1714.0 964.25 L1720.0 964.25 L1726.0 964.25 L1732.0 964.25 L1738.0 964.25 L1744.0 964.25 L1750.0 964.25 L1756.0 964.25 L1762.0 964.25 L1768.0 964.25 L1774.0 964.25 L1780.0 964.25 L1786.0 964.24 L1792.0 964.24 L1798.0 964.24 L1804.0 964.24 L1810.0 964.24 L1816.0 964.24 L1822.0 964.24 L1828.0 964.24 L1834.0 964.24 L1840.0 964.24 L1846.0 964.24 L1852.0 964.24 L1858.0 964.24 L1864.0 964.24 L1870.0 964.24 L1876.0 964.24 L1882.0 964.24 L1888.0 964.24 L1894.0 964.24 L1900.0 964.24 L1906.0 964.24 L1912.0 964.23 L1918.0 964.23 L1924.0 964.23 L1930.0 964.23 L1936.0 964.23 L1942.0 964.23 L1948.0 964.23 L1954.0 964.23 L1960.0 964.23 L1966.0 964.23 L1972.0 964.23 L1978.0 964.23 L1984.0 964.23 L1990.0 964.23 L1996.0 964.23 L2002.0 964.23 L2008.0 964.23 L2014.0 964.22 L2020.0 964.22 L2026.0 964.22 L2032.0 964.22 L2038.0 964.22 L2044.0 964.22 L2050.0 964.22 L2056.0 964.22 L2062.0 964.22 L2068.0 964.22 L2074.0 964.22 L2080.0 964.22 L2086.0 964.22 L2092.0 964.22 L2098.0 964.22 L2104.0 964.22 L2110.0 964.22 L2116.0 964.22 L2122.0 964.22 L2128.0 964.21 L2134.0 964.21 L2140.0 964.21 L2146.0 964.21 L2152.0 964.21 L2158.0 964.21 L2163.5 964.21" stroke="#0000ff" stroke-width="6.5"/>
<path d="M291.5 177.00 L293.5 187.34 L295.5 197.53 L297.5 207.58 L299.5 217.49 L301.5 227.26 L303.5 236.89 L305.5 246.40 L307.5 255.76 L309.5 265.00 L311.5 274.11 L313.5 283.10 L315.5 291.95 L317.5 300.69 L319.5 309.30 L321.5 317.79 L323.5 326.16 L325.5 334.42 L327.5 342.56 L329.5 350.59 L331.5 358.51 L333.5 366.31 L335.5 374.01 L337.5 381.60 L339.5 389.08 L341.5 396.46 L343.5 403.74 L345.5 410.92 L347.5 417.99 L349.5 424.97 L351.5 431.85 L353.5 438.63 L355.5 445.32 L357.5 451.91 L359.5 458.41 L361.5 464.82 L363.5 471.15 L365.5 477.38 L367.5 483.53 L369.5 489.59 L371.5 495.56 L373.5 501.46 L375.5 507.27 L377.5 513.00 L379.5 518.65 L381.5 524.22 L383.5 529.71 L385.5 535.12 L387.5 540.46 L389.5 545.73 L391.5 550.92 L393.5 556.04 L395.5 561.09 L397.5 566.07 L399.5 570.97 L401.5 575.81 L403.5 580.58 L405.5 585.29 L407.5 589.93 L409.5 594.50 L411.5 599.01 L413.5 603.45 L415.5 607.84 L417.5 612.16 L419.5 616.42 L421.5 620.63 L423.5 624.77 L425.5 628.86 L427.5 632.89 L429.5 636.86 L431.5 640.77 L433.5 644.64 L435.5 648.44 L437.5 652.20 L439.5 655.90 L441.5 659.55 L443.5 663.15 L445.5 666.70 L447.5 670.20 L449.5 673.65 L451.5 677.05 L453.5 680.40 L455.5 683.71 L457.5 686.97 L459.5 690.18 L461.5 693.35 L463.5 696.48 L465.5 699.56 L467.5 702.60 L469.5 705.59 L471.5 708.54 L473.5 711.46 L475.5 714.33 L477.5 717.16 L479.5 719.95 L481.5 722.70 L483.5 725.41 L485.5 728.09 L487.5 730.73 L489.5 733.33 L491.5 735.89 L493.5 738.42 L495.5 740.91 L497.5 743.37 L499.5 745.79 L501.5 748.18 L503.5 750.54 L505.5 752.86 L507.5 755.15 L509.5 757.41 L511.5 759.63 L513.5 761.83 L515.5 763.99 L517.5 766.12 L519.5 768.23 L521.5 770.30 L523.5 772.34 L525.5 774.36 L527.5 776.35 L529.5 778.31 L531.5 780.24 L533.5 782.14 L535.5 784.02 L537.5 785.87 L539.5 787.70 L541.5 789.50 L543.5 791.27 L545.5 793.02 L547.5 794.75 L549.5 796.45 L551.5 798.12 L553.5 799.78 L555.5 801.41 L557.5 803.01 L559.5 804.60 L561.5 806.16 L563.5 807.70 L565.5 809.22 L567.5 810.71 L569.5 812.19 L571.5 813.64 L573.5 815.08 L575.5 816.49 L577.5 817.89 L579.5 819.26 L581.5 820.62 L583.5 821.95 L585.5 823.27 L587.5 824.57 L589.5 825.85 L591.5 827.11 L593.5 828.35 L595.5 829.58 L597.5 830.79 L599.5 831.98 L601.5 833.16 L603.5 834.32 L605.5 835.46 L607.5 836.59 L609.5 837.70 L611.5 838.79 L613.5 839.87 L615.5 840.94 L617.5 841.99 L619.5 843.02 L621.5 844.04 L623.5 845.04 L625.5 846.04 L627.5 847.01 L629.5 847.98 L631.5 848.93 L633.5 849.86 L635.5 850.79 L637.5 851.70 L639.5 852.59 L641.5 853.48 L643.5 854.35 L645.5 855.21 L647.5 856.06 L649.5 856.89 L651.5 857.71 L653.5 858.53 L655.5 859.33 L657.5 860.12 L659.5 860.89 L661.5 861.66 L663.5 862.42 L665.5 863.16 L667.5 863.90 L669.5 864.62 L671.5 865.33 L673.5 866.04 L675.5 866.73 L677.5 867.42 L679.5 868.09 L681.5 868.76 L683.5 869.41 L685.5 870.06 L687.5 870.69 L689.5 871.32 L691.5 871.94 L693.5 872.55 L695.5 873.15 L697.5 873.75 L699.5 874.33 L700.0 874.48 L706.0 876.17 L712.0 877.80 L718.0 879.36 L724.0 880.85 L730.0 882.28 L736.0 883.66 L742.0 884.97 L748.0 886.23 L754.0 887.43 L760.0 888.58 L766.0 889.69 L772.0 890.75 L778.0 891.76 L784.0 892.73 L790.0 893.66 L796.0 894.55 L802.0 895.41 L808.0 896.22 L814.0 897.01 L820.0 897.76 L826.0 898.48 L832.0 899.16 L838.0 899.82 L844.0 900.45 L850.0 901.06 L856.0 901.63 L862.0 902.19 L868.0 902.72 L874.0 903.23 L880.0 903.71 L886.0 904.18 L892.0 904.62 L898.0 905.05 L904.0 905.46 L910.0 905.85 L916.0 906.22 L922.0 906.58 L928.0 906.93 L934.0 907.26 L940.0 907.57 L946.0 907.87 L952.0 908.16 L958.0 908.44 L964.0 908.70 L970.0 908.95 L976.0 909.20 L982.0 909.43 L988.0 909.65 L994.0 909.86 L1000.0 910.07 L1006.0 910.26 L1012.0 910.45 L1018.0 910.62 L1024.0 910.80 L1030.0 910.96 L1036.0 911.11 L1042.0 911.26 L1048.0 911.41 L1054.0 911.54 L1060.0 911.68 L1066.0 911.80 L1072.0 911.92 L1078.0 912.04 L1084.0 912.15 L1090.0 912.25 L1096.0 912.35 L1102.0 912.45 L1108.0 912.54 L1114.0 912.63 L1120.0 912.71 L1126.0 912.79 L1132.0 912.87 L1138.0 912.94 L1144.0 913.01 L1150.0 913.08 L1156.0 913.15 L1162.0 913.21 L1168.0 913.27 L1174.0 913.32 L1180.0 913.38 L1186.0 913.43 L1192.0 913.48 L1198.0 913.52 L1204.0 913.57 L1210.0 913.61 L1216.0 913.65 L1222.0 913.69 L1228.0 913.73 L1234.0 913.77 L1240.0 913.80 L1246.0 913.83 L1252.0 913.87 L1258.0 913.90 L1264.0 913.93 L1270.0 913.95 L1276.0 913.98 L1282.0 914.00 L1288.0 914.03 L1294.0 914.05 L1300.0 914.07 L1306.0 914.09 L1312.0 914.11 L1318.0 914.13 L1324.0 914.15 L1330.0 914.17 L1336.0 914.19 L1342.0 914.20 L1348.0 914.22 L1354.0 914.23 L1360.0 914.25 L1366.0 914.26 L1372.0 914.27 L1378.0 914.28 L1384.0 914.30 L1390.0 914.31 L1396.0 914.32 L1402.0 914.33 L1408.0 914.34 L1414.0 914.35 L1420.0 914.35 L1426.0 914.36 L1432.0 914.37 L1438.0 914.38 L1444.0 914.39 L1450.0 914.39 L1456.0 914.40 L1462.0 914.41 L1468.0 914.41 L1474.0 914.42 L1480.0 914.42 L1486.0 914.43 L1492.0 914.43 L1498.0 914.44 L1504.0 914.44 L1510.0 914.45 L1516.0 914.45 L1522.0 914.46 L1528.0 914.46 L1534.0 914.46 L1540.0 914.47 L1546.0 914.47 L1552.0 914.47 L1558.0 914.48 L1564.0 914.48 L1570.0 914.48 L1576.0 914.48 L1582.0 914.49 L1588.0 914.49 L1594.0 914.49 L1600.0 914.49 L1606.0 914.50 L1612.0 914.50 L1618.0 914.50 L1624.0 914.50 L1630.0 914.50 L1636.0 914.50 L1642.0 914.51 L1648.0 914.51 L1654.0 914.51 L1660.0 914.51 L1666.0 914.51 L1672.0 914.51 L1678.0 914.51 L1684.0 914.51 L1690.0 914.52 L1696.0 914.52 L1702.0 914.52 L1708.0 914.52 L1714.0 914.52 L1720.0 914.52 L1726.0 914.52 L1732.0 914.52 L1738.0 914.52 L1744.0 914.52 L1750.0 914.52 L1756.0 914.52 L1762.0 914.52 L1768.0 914.52 L1774.0 914.53 L1780.0 914.53 L1786.0 914.53 L1792.0 914.53 L1798.0 914.53 L1804.0 914.53 L1810.0 914.53 L1816.0 914.53 L1822.0 914.53 L1828.0 914.53 L1834.0 914.53 L1840.0 914.53 L1846.0 914.53 L1852.0 914.53 L1858.0 914.53 L1864.0 914.53 L1870.0 914.53 L1876.0 914.53 L1882.0 914.53 L1888.0 914.53 L1894.0 914.53 L1900.0 914.53 L1906.0 914.53 L1912.0 914.53 L1918.0 914.53 L1924.0 914.53 L1930.0 914.53 L1936.0 914.53 L1942.0 914.53 L1948.0 914.53 L1954.0 914.53 L1960.0 914.53 L1966.0 914.53 L1972.0 914.53 L1978.0 914.53 L1984.0 914.53 L1990.0 914.53 L1996.0 914.53 L2002.0 914.53 L2008.0 914.53 L2014.0 914.53 L2020.0 914.53 L2026.0 914.53 L2032.0 914.53 L2038.0 914.53 L2044.0 914.53 L2050.0 914.53 L2056.0 914.53 L2062.0 914.53 L2068.0 914.53 L2074.0 914.53 L2080.0 914.53 L2086.0 914.53 L2092.0 914.53 L2098.0 914.53 L2104.0 914.53 L2110.0 914.53 L2116.0 914.53 L2122.0 914.53 L2128.0 914.53 L2134.0 914.53 L2140.0 914.53 L2146.0 914.53 L2152.0 914.53 L2158.0 914.53 L2163.5 914.53" stroke="#ff00ff" stroke-width="6.2"/>
</g>
<rect x="1117" y="106" width="1037" height="372" fill="#000"/>
<rect x="1100.5" y="89.5" width="1034" height="370.4" fill="#fff" stroke="#000" stroke-width="3"/>
<line x1="1196.2" y1="155.8" x2="1328.8" y2="155.8" stroke="#000000" stroke-width="6.6" stroke-linecap="round"/>
<text transform="translate(1344.5 175.8) scale(1 0.99)" font-size="58.5" fill="#000000">(i)</text>
<text transform="translate(1415.97 175.8) scale(1 1.022)" font-size="58.5" fill="#000000">EH36 PM</text>
<line x1="1196.2" y1="229.8" x2="1328.8" y2="229.8" stroke="#ff0000" stroke-width="6.6" stroke-linecap="round"/>
<text transform="translate(1344.5 249.7) scale(1 0.99)" font-size="58.5" fill="#ff0000">(ii)</text>
<text transform="translate(1432.22 249.7) scale(1 1.022)" font-size="58.5" fill="#ff0000">EH36 PAWJ</text>
<line x1="1196.2" y1="302.6" x2="1328.8" y2="302.6" stroke="#0000ff" stroke-width="6.6" stroke-linecap="round"/>
<text transform="translate(1344.5 323.6) scale(1 0.99)" font-size="58.5" fill="#0000ff">(iii)</text>
<text transform="translate(1448.47 323.6) scale(1 1.022)" font-size="58.5" fill="#0000ff">EH36 PAWJEP</text>
<line x1="1196.2" y1="376.4" x2="1328.8" y2="376.4" stroke="#ff00ff" stroke-width="6.6" stroke-linecap="round"/>
<text transform="translate(1344.5 396.6) scale(1 0.99)" font-size="58.5" fill="#ff00ff">(iv)</text>
<text transform="translate(1448.5 396.6) scale(1 1.022)" font-size="58.5" fill="#ff00ff">EH36 PAWJEP + TiO<tspan font-size="34.5" dy="22.6">2</tspan></text>
<line x1="1312.8" y1="825.7" x2="1196.7" y2="894.9" stroke="#ff00ff" stroke-width="4.6" stroke-linecap="round"/>
<polygon points="1175.2,907.7 1193.2,889.1 1200.1,900.7" fill="#ff00ff" stroke="#ff00ff" stroke-width="1.5" stroke-linejoin="round"/>
<line x1="1548.8" y1="1025.8" x2="1436.2" y2="977.2" stroke="#0000ff" stroke-width="4.6" stroke-linecap="round"/>
<polygon points="1413.2,967.3 1438.8,971.0 1433.5,983.4" fill="#0000ff" stroke="#0000ff" stroke-width="1.5" stroke-linejoin="round"/>
<line x1="882.8" y1="1085.9" x2="749.5" y2="1126.8" stroke="#ff0000" stroke-width="4.6" stroke-linecap="round"/>
<polygon points="725.6,1134.1 747.5,1120.3 751.5,1133.2" fill="#ff0000" stroke="#ff0000" stroke-width="1.5" stroke-linejoin="round"/>
<line x1="879.1" y1="1288.7" x2="754.0" y2="1202.8" stroke="#000000" stroke-width="4.6" stroke-linecap="round"/>
<polygon points="733.4,1188.7 757.8,1197.3 750.2,1208.4" fill="#000000" stroke="#000000" stroke-width="1.5" stroke-linejoin="round"/>
<text transform="translate(1328 798.5) scale(1 0.99)" font-size="58.5" fill="#ff00ff">(iv)</text>
<text transform="translate(1585 1059) scale(1 0.99)" font-size="58.5" fill="#0000ff">(iii)</text>
<text transform="translate(904.5 1090.2) scale(1 0.99)" font-size="58.5" fill="#ff0000">(ii)</text>
<text transform="translate(893.7 1309.5) scale(1 0.99)" font-size="58.5" fill="#000000">(i)</text>
</svg>
</body>
</html>
